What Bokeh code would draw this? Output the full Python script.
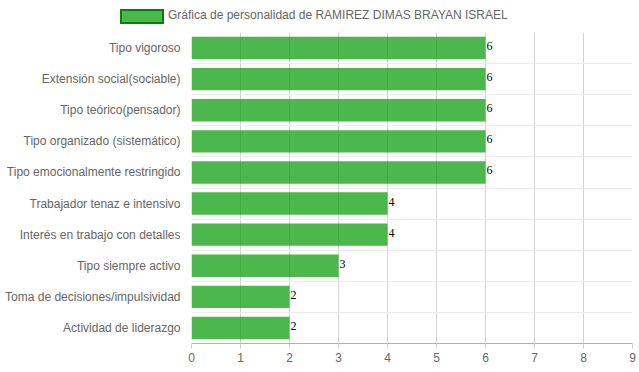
from bokeh.plotting import figure
from bokeh.layouts import column
from bokeh.models import Range1d, FixedTicker, ColumnDataSource, Div
from bokeh.core.properties import value
from bokeh.embed import file_html
from bokeh.resources import INLINE

categories = ["Tipo vigoroso", "Extensión social(sociable)", "Tipo teórico(pensador)",
              "Tipo organizado (sistemático)", "Tipo emocionalmente restringido",
              "Trabajador tenaz e intensivo", "Interés en trabajo con detalles",
              "Tipo siempre activo", "Toma de decisiones/impulsividad", "Actividad de liderazgo"]
values = [6, 6, 6, 6, 6, 4, 4, 3, 2, 2]
x_ticks = [0, 1, 2, 3, 4, 5, 6, 7, 8, 9]
series_name = "Gráfica de personalidad de RAMIREZ DIMAS BRAYAN ISRAEL"

n = len(categories)
pos = [i + 0.5 for i in range(n)]

p = figure(width=636, height=334, output_backend="svg", toolbar_location=None,
           x_range=Range1d(0, 9), y_range=Range1d(n, 0),
           min_border_left=191, min_border_right=4, min_border_top=2, min_border_bottom=10)
p.outline_line_color = None
p.background_fill_color = "white"

src = ColumnDataSource(dict(y=pos, v=values, lab=[str(v) for v in values]))
p.hbar(y="y", right="v", left=0, height=0.72, source=src,
       fill_color="#009900", fill_alpha=0.7, line_color=None)
p.text(x="v", y="y", text="lab", source=src, x_offset=1, y_offset=-2,
       text_font=value("Liberation Serif"), text_font_size="12px",
       text_color="black", text_baseline="middle", text_align="left")

# x axis
p.xaxis.ticker = FixedTicker(ticks=x_ticks)
p.xaxis.axis_line_color = "#b0b0b0"
p.xaxis.major_tick_line_color = "#cfcfcf"
p.xaxis.major_tick_out = 5
p.xaxis.major_tick_in = 0
p.xaxis.minor_tick_line_color = None
p.xaxis.major_label_text_font = "Liberation Sans"
p.xaxis.major_label_text_font_size = "12px"
p.xaxis.major_label_text_color = "#666666"
p.xaxis.major_label_standoff = 4

# y axis
p.yaxis.ticker = FixedTicker(ticks=pos)
p.yaxis.major_label_overrides = {pp: c for pp, c in zip(pos, categories)}
p.yaxis.axis_line_color = None
p.yaxis.major_tick_line_color = None
p.yaxis.minor_tick_line_color = None
p.yaxis.major_label_text_font = "Liberation Sans"
p.yaxis.major_label_text_font_size = "12px"
p.yaxis.major_label_text_color = "#666666"
p.yaxis.major_label_standoff = 5

p.xgrid.ticker = FixedTicker(ticks=x_ticks)
p.xgrid.grid_line_color = "#d2d2d2"
p.ygrid.ticker = FixedTicker(ticks=list(range(n + 1)))
p.ygrid.grid_line_color = "#ececec"

# legend strip above the chart
legend_html = (
    '<div style="position:relative;width:636px;height:30px;'
    'font-family:\'Liberation Sans\',Arial,sans-serif;font-size:12px;color:#666666;">'
    '<div style="position:absolute;left:120px;top:9px;width:44px;height:15px;box-sizing:border-box;'
    'background:#4cb74c;border:2px solid #0a7d0a;"></div>'
    '<span style="position:absolute;left:168px;top:8px;line-height:15px;white-space:nowrap;">'
    + series_name + '</span></div>'
)
lg = Div(text=legend_html, width=636, height=30, margin=0)

layout = column(lg, p, spacing=0)
open("out.html", "w").write(file_html(layout, INLINE))
